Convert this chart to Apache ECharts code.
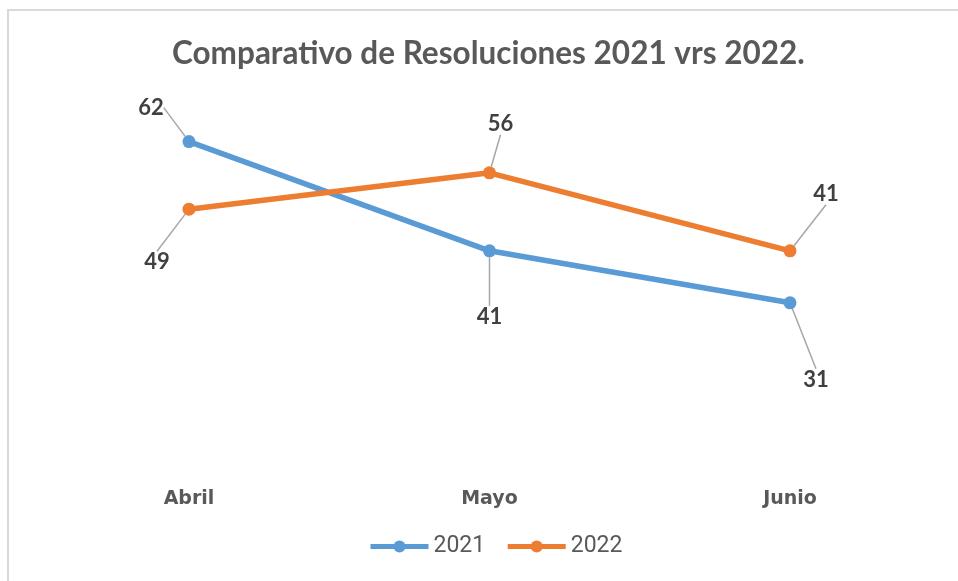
<!DOCTYPE html>
<html>
<head>
<meta charset="utf-8">
<script src="https://cdn.jsdelivr.net/npm/echarts@6/dist/echarts.min.js"></script>
<style>
  html, body { margin: 0; padding: 0; background: #fff; }
  #chart { width: 958px; height: 581px; }
</style>
</head>
<body>
<div id="chart"></div>
<script>
const months = ['Abril', 'Mayo', 'Junio'];
const values2021 = [62, 41, 31];
const values2022 = [49, 56, 41];

// label offsets (dx, dy) from each point, by series
const offsets2021 = [[-38, -34], [0, 66], [26, 77]];
const offsets2022 = [[-32, 53], [11, -49], [36, -57]];

const chart = echarts.init(document.getElementById('chart'));

const labelFont = {
  show: true,
  position: 'inside',
  color: '#404040',
  fontFamily: 'Lato',
  fontWeight: 'bold',
  fontSize: 22
};

chart.setOption({
  animation: false,
  graphic: [{
    type: 'rect',
    shape: { x: 8, y: 10, width: 970, height: 600 },
    style: { fill: 'none', stroke: '#D9D9D9', lineWidth: 2 },
    silent: true
  }],
  title: {
    text: 'Comparativo de Resoluciones 2021 vrs 2022.',
    left: 167,
    top: 33,
    textStyle: {
      color: '#595959',
      fontFamily: 'Lato',
      fontWeight: 'bold',
      fontSize: 31.5
    }
  },
  legend: {
    bottom: 18,
    left: 363,
    itemWidth: 58,
    itemHeight: 15,
    itemGap: 20,
    lineStyle: { width: 5 },
    textStyle: { color: '#595959', fontFamily: 'Roboto', fontSize: 23 },
    data: ['2021', '2022']
  },
  grid: { left: 38.75, right: 17.75, top: 100, bottom: 117 },
  xAxis: {
    type: 'category',
    data: months,
    axisLine: { show: false },
    axisTick: { show: false },
    axisLabel: {
      margin: 26,
      color: '#595959',
      fontFamily: 'DejaVu Sans',
      fontWeight: 'bold',
      fontSize: 19
    }
  },
  yAxis: {
    type: 'value',
    min: 0,
    max: 70,
    show: false,
    splitLine: { show: false }
  },
  series: [
    {
      name: '2021',
      type: 'line',
      data: values2021,
      color: '#5B9BD5',
      lineStyle: { width: 5.5 },
      symbol: 'circle',
      symbolSize: 13,
      label: labelFont,
      labelLine: { show: true, lineStyle: { color: '#A6A6A6', width: 1.5 } },
      labelLayout: function (p) {
        const o = offsets2021[p.dataIndex];
        return { dx: o[0], dy: o[1] };
      }
    },
    {
      name: '2022',
      type: 'line',
      data: values2022,
      color: '#ED7D31',
      lineStyle: { width: 5.5 },
      symbol: 'circle',
      symbolSize: 13,
      label: labelFont,
      labelLine: { show: true, lineStyle: { color: '#A6A6A6', width: 1.5 } },
      labelLayout: function (p) {
        const o = offsets2022[p.dataIndex];
        return { dx: o[0], dy: o[1] };
      }
    }
  ]
});
</script>
</body>
</html>
